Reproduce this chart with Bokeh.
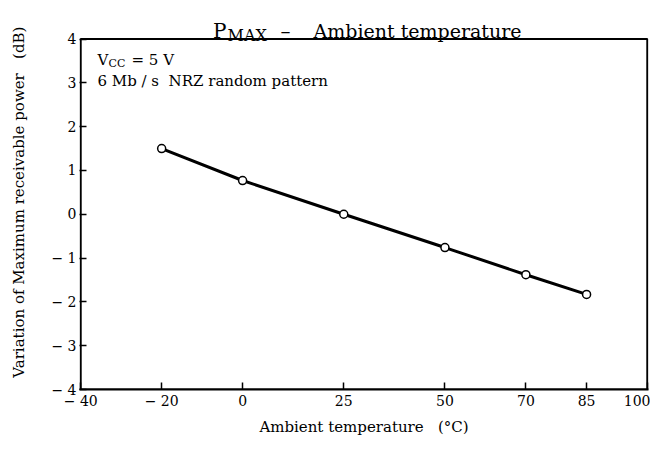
from bokeh.plotting import figure
from bokeh.models import FixedTicker, Range1d, Label, BoxAnnotation
from bokeh.embed import file_html
from bokeh.resources import INLINE

temps = [-20, 0, 25, 50, 70, 85]
pmax_var = [1.5, 0.77, 0.0, -0.76, -1.38, -1.83]
x_ticks = [-40, -20, 0, 25, 50, 70, 85, 100]
x_tick_labels = ["\u2212\u00a040", "\u2212\u00a020", "0", "25", "50", "70", "85", "100"]
y_ticks = [-4, -3, -2, -1, 0, 1, 2, 3, 4]
y_tick_labels = ["\u2212\u00a04", "\u2212\u00a03", "\u2212\u00a02", "\u2212\u00a01", "0", "1", "2", "3", "4"]

FONT = "DejaVu Serif"
NB3 = "\u00a0\u00a0\u00a0"
W, H = 650, 438
LEFT, RIGHT = 79, 648          # frame left/right (px)
BOX_TOP, BOTTOM = 39, 394      # data box top / frame bottom (px)
XMIN, XMAX, PAD = -40, 100, 0.3
YMIN, YMAX = -4, 4

x0, x1 = XMIN - PAD, XMAX + PAD
ppu_y = (BOTTOM - BOX_TOP) / (YMAX - YMIN)
y1 = YMAX + BOX_TOP / ppu_y     # extend range upward to host the title


def px2x(px):
    return x0 + (px - LEFT) * (x1 - x0) / (RIGHT - LEFT)


def py2y(py):
    return y1 - py / ppu_y


p = figure(width=W, height=H, output_backend="svg", toolbar_location=None,
           x_range=Range1d(x0, x1), y_range=Range1d(YMIN, y1),
           min_border_left=LEFT, min_border_right=W - RIGHT, min_border_top=0,
           min_border_bottom=H - BOTTOM)
p.grid.visible = False
p.outline_line_color = None

for ax in (p.xaxis[0], p.yaxis[0]):
    ax.axis_line_width = 2
    ax.axis_line_color = "black"
    ax.major_tick_in = 7
    ax.major_tick_out = 0
    ax.major_tick_line_width = 1.5
    ax.major_tick_line_color = "black"
    ax.minor_tick_line_color = None
    ax.major_label_text_font = FONT
    ax.major_label_text_font_size = "14px"
    ax.major_label_text_color = "black"
    ax.axis_label_text_font = FONT
    ax.axis_label_text_font_style = "normal"
    ax.axis_label_text_color = "black"

p.yaxis.axis_line_color = None
p.xaxis.ticker = FixedTicker(ticks=x_ticks)
p.xaxis.major_label_overrides = dict(zip(x_ticks, x_tick_labels))
p.yaxis.ticker = FixedTicker(ticks=y_ticks)
p.yaxis.major_label_overrides = dict(zip(y_ticks, y_tick_labels))
p.xaxis.axis_label = "Ambient temperature" + NB3 + "(\u00b0C)"
p.xaxis.axis_label_text_font_size = "15px"
p.xaxis.axis_label_standoff = 6
# trailing no-break spaces centre the visible text on the boxed area, not the title strip
p.yaxis.axis_label = "Variation of Maximum receivable power" + NB3 + "(dB)" + "\u00a0" * 3
p.yaxis.axis_label_text_font_size = "15px"
p.yaxis.axis_label_standoff = 20
p.xaxis.major_label_standoff = 3
p.yaxis.major_label_standoff = 3

# plot box
p.add_layout(BoxAnnotation(left=XMIN, right=XMAX, bottom=YMIN, top=YMAX,
                           fill_alpha=0, line_color="black", line_alpha=1.0,
                           line_width=2, level="underlay"))

p.line(temps, pmax_var, line_width=3, line_color="black")
p.scatter(temps, pmax_var, size=8, fill_color="white", line_color="black", line_width=1.5)


def lab(px, py, text, size, align="left", baseline="alphabetic"):
    p.add_layout(Label(x=px2x(px), y=py2y(py), text=text, text_font=FONT,
                       text_font_size=size, text_align=align, text_baseline=baseline,
                       text_color="black"))


# title with subscript
lab(226, 31, "P", "20px", align="right")
lab(227, 35, "MAX", "16px")
lab(280, 31, "\u2013", "20px")
lab(313, 31, "Ambient temperature", "19px")

# conditions text
lab(97, 60, "V", "15px", baseline="middle")
lab(108, 64, "CC", "11px", baseline="middle")
lab(131, 60, "= 5 V", "15px", baseline="middle")
lab(97, 82, "6 Mb / s" + "\u00a0 NRZ random pattern", "15px", baseline="middle")

open("out.html", "w").write(file_html(p, INLINE))
